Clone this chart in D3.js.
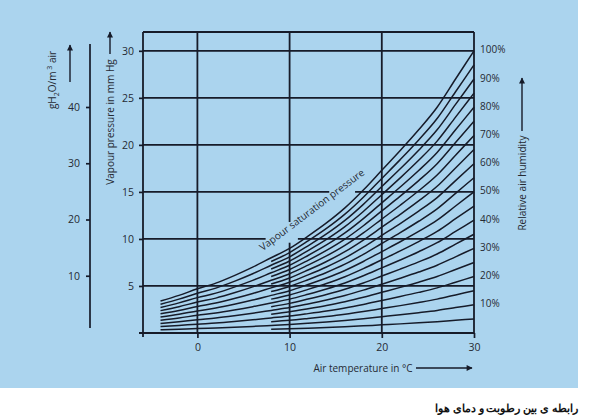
<!DOCTYPE html>
<html>
<head>
<meta charset="utf-8">
<script src="https://cdn.jsdelivr.net/npm/d3@7"></script>
<style>
  html, body { margin: 0; padding: 0; background: #ffffff; }
  svg { display: block; }
  text { font-family: "Open Sans", "Noto Sans", sans-serif; fill: #262a33; }
</style>
</head>
<body>
<svg id="chart" width="600" height="420"></svg>
<script>
// ---------------- data ----------------
const temperatures = [-4, -2, 0, 2, 4, 6, 8, 10, 12, 14, 16, 18, 20, 22, 24, 26, 28, 30];       // °C
const saturationPressure = [3.4, 4.0, 4.7, 5.3, 6.1, 7.0, 8.0, 9.0, 10.3, 11.7, 13.3, 15.2, 17.3, 19.4, 21.6, 24.0, 27.0, 30.0]; // mm Hg
const humidityMain = [10, 20, 30, 40, 50, 60, 70, 80, 90, 100];   // % curves drawn over the full range
const humidityIntermediate = [5, 15, 25, 35, 45, 55, 65, 75, 85, 95]; // % curves starting later
const intermediateStartTemp = 8;                                   // °C
const pressureTicks = [5, 10, 15, 20, 25, 30];                     // mm Hg
const temperatureTicks = [0, 10, 20, 30];                          // °C
const waterTicks = [10, 20, 30, 40];                               // g H2O / m3 air
const humidityLabels = [10, 20, 30, 40, 50, 60, 70, 80, 90, 100];  // %
const xLabel = "Air temperature in °C";
const yLabel = "Vapour pressure in mm Hg";
const rhLabel = "Relative air humidity";
const satLabel = "Vapour saturation pressure";
const caption = "رابطه ی بین رطوبت و دمای هوا";

// ---------------- setup ----------------
const svg = d3.select("#chart");
const ink = "#161b29";
const textCol = "#262a33";

svg.append("rect").attr("x", 0).attr("y", 0).attr("width", 578).attr("height", 388).attr("fill", "#abd4ee");

const x = d3.scaleLinear().domain([-5.9, 30]).range([143, 474]);
const y = d3.scaleLinear().domain([0, 32]).range([333, 32]);
const g = d3.scaleLinear().domain([0, 40]).range([332, 107]);

// arrow marker
const defs = svg.append("defs");
defs.append("marker").attr("id", "arr").attr("viewBox", "0 0 10 10")
  .attr("refX", 9).attr("refY", 5).attr("markerWidth", 8).attr("markerHeight", 6)
  .attr("markerUnits", "userSpaceOnUse").attr("orient", "auto")
  .append("path").attr("d", "M0,0 L10,5 L0,10 Z").attr("fill", ink);

const grid = svg.append("g").attr("stroke", ink).attr("stroke-width", 1.8).attr("fill", "none");

// horizontal gridlines (gaps left for the saturation label)
const hGaps = { 10: [7.4, 10.9], 15: [14.3, 17.1] };
pressureTicks.forEach(p => {
  const gap = hGaps[p];
  const segs = gap ? [[x.domain()[0], gap[0]], [gap[1], 30]] : [[x.domain()[0], 30]];
  segs.forEach(s => grid.append("line")
    .attr("x1", x(s[0])).attr("x2", x(s[1])).attr("y1", y(p)).attr("y2", y(p)));
});
// vertical gridlines
const vGaps = { 10: [9.6, 11.8] };
temperatureTicks.filter(t => t < 30).forEach(t => {
  const gap = vGaps[t];
  const segs = gap ? [[0, gap[0]], [gap[1], 32]] : [[0, 32]];
  segs.forEach(s => grid.append("line")
    .attr("x1", x(t)).attr("x2", x(t)).attr("y1", y(s[0])).attr("y2", y(s[1])));
});
// frame
grid.append("line").attr("x1", x(-5.9)).attr("x2", x(30)).attr("y1", y(32)).attr("y2", y(32));
grid.append("line").attr("x1", x(30)).attr("x2", x(30)).attr("y1", y(32)).attr("y2", y(0));
grid.append("line").attr("x1", x(-5.9)).attr("x2", x(-5.9)).attr("y1", y(32)).attr("y2", y(0) + 4);
grid.append("line").attr("x1", x(-5.9) - 4).attr("x2", x(30)).attr("y1", y(0)).attr("y2", y(0));

// humidity curves
const line = d3.line().x(d => x(d.t)).y(d => y(d.p)).curve(d3.curveMonotoneX);
const curves = svg.append("g").attr("stroke", ink).attr("stroke-width", 1.5).attr("fill", "none");
humidityMain.forEach(rh => {
  const pts = temperatures.map((t, i) => ({ t, p: saturationPressure[i] * rh / 100 }));
  curves.append("path").attr("d", line(pts));
});
humidityIntermediate.forEach(rh => {
  const pts = temperatures.map((t, i) => ({ t, p: saturationPressure[i] * rh / 100 }))
    .filter(d => d.t >= intermediateStartTemp);
  curves.append("path").attr("d", line(pts));
});

// axes
const yAxis = svg.append("g").attr("transform", `translate(${x(-5.9)},0)`)
  .call(d3.axisLeft(y).tickValues(pressureTicks).tickSize(4).tickPadding(5));
const xAxis = svg.append("g").attr("transform", `translate(0,${y(0)})`)
  .call(d3.axisBottom(x).tickValues(temperatureTicks).tickSize(5).tickPadding(6));
const gAxis = svg.append("g").attr("transform", "translate(90,0)")
  .call(d3.axisLeft(g).tickValues(waterTicks).tickSize(4).tickPadding(6));
[yAxis, xAxis, gAxis].forEach(a => {
  a.select(".domain").remove();
  a.selectAll(".tick line").attr("stroke", ink).attr("stroke-width", 1.7);
  a.selectAll(".tick text").attr("font-family", "Open Sans, sans-serif").attr("font-size", 10.5).attr("fill", textCol);
});
svg.append("line").attr("x1", 90).attr("x2", 90).attr("y1", g(0.7)).attr("y2", g(51.2))
  .attr("stroke", ink).attr("stroke-width", 1.7);

// right humidity labels
svg.append("g").selectAll("text").data(humidityLabels).join("text")
  .attr("x", 480).attr("y", d => y(saturationPressure[saturationPressure.length - 1] * d / 100) - 1)
  .attr("dy", "0.35em").attr("font-size", 10).text(d => d + "%");

// axis titles + arrows
function arrow(x1, y1, x2, y2) {
  svg.append("line").attr("x1", x1).attr("y1", y1).attr("x2", x2).attr("y2", y2)
    .attr("stroke", ink).attr("stroke-width", 1.4).attr("marker-end", "url(#arr)");
}
svg.append("text").attr("x", 363).attr("y", 368).attr("dy", "0.35em")
  .attr("text-anchor", "middle").attr("font-size", 10).text(xLabel);
arrow(416, 368, 472, 368);

svg.append("text").attr("transform", "translate(110,122) rotate(-90)").attr("dy", "0.35em")
  .attr("text-anchor", "middle").attr("font-size", 10).text(yLabel);
arrow(110, 54, 110, 32);

svg.append("text").attr("transform", "translate(522,183) rotate(-90)").attr("dy", "0.35em")
  .attr("text-anchor", "middle").attr("font-size", 10).text(rhLabel);
arrow(522, 131, 522, 78);

const gl = svg.append("text").attr("transform", "translate(52,80) rotate(-90)").attr("dy", "0.35em")
  .attr("text-anchor", "middle").attr("font-size", 10);
gl.append("tspan").text("gH");
gl.append("tspan").attr("font-size", 7).attr("dy", "3").text("2");
gl.append("tspan").attr("dy", "-3").text("O/m");
gl.append("tspan").attr("font-size", 7).attr("dy", "-4").text(" 3");
gl.append("tspan").attr("dy", "4").text(" air");
arrow(70, 82, 70, 45);

svg.append("text").attr("transform", `translate(${x(7.1)},${y(8.7)}) rotate(-37)`)
  .attr("font-size", 10).text(satLabel);

svg.append("text").attr("x", 578).attr("y", 408).attr("dy", "0.35em")
  .attr("text-anchor", "end").attr("font-family", "DejaVu Sans, sans-serif")
  .attr("font-weight", "bold").attr("font-size", 11).style("fill", "#111")
  .text(caption);
</script>
</body>
</html>
